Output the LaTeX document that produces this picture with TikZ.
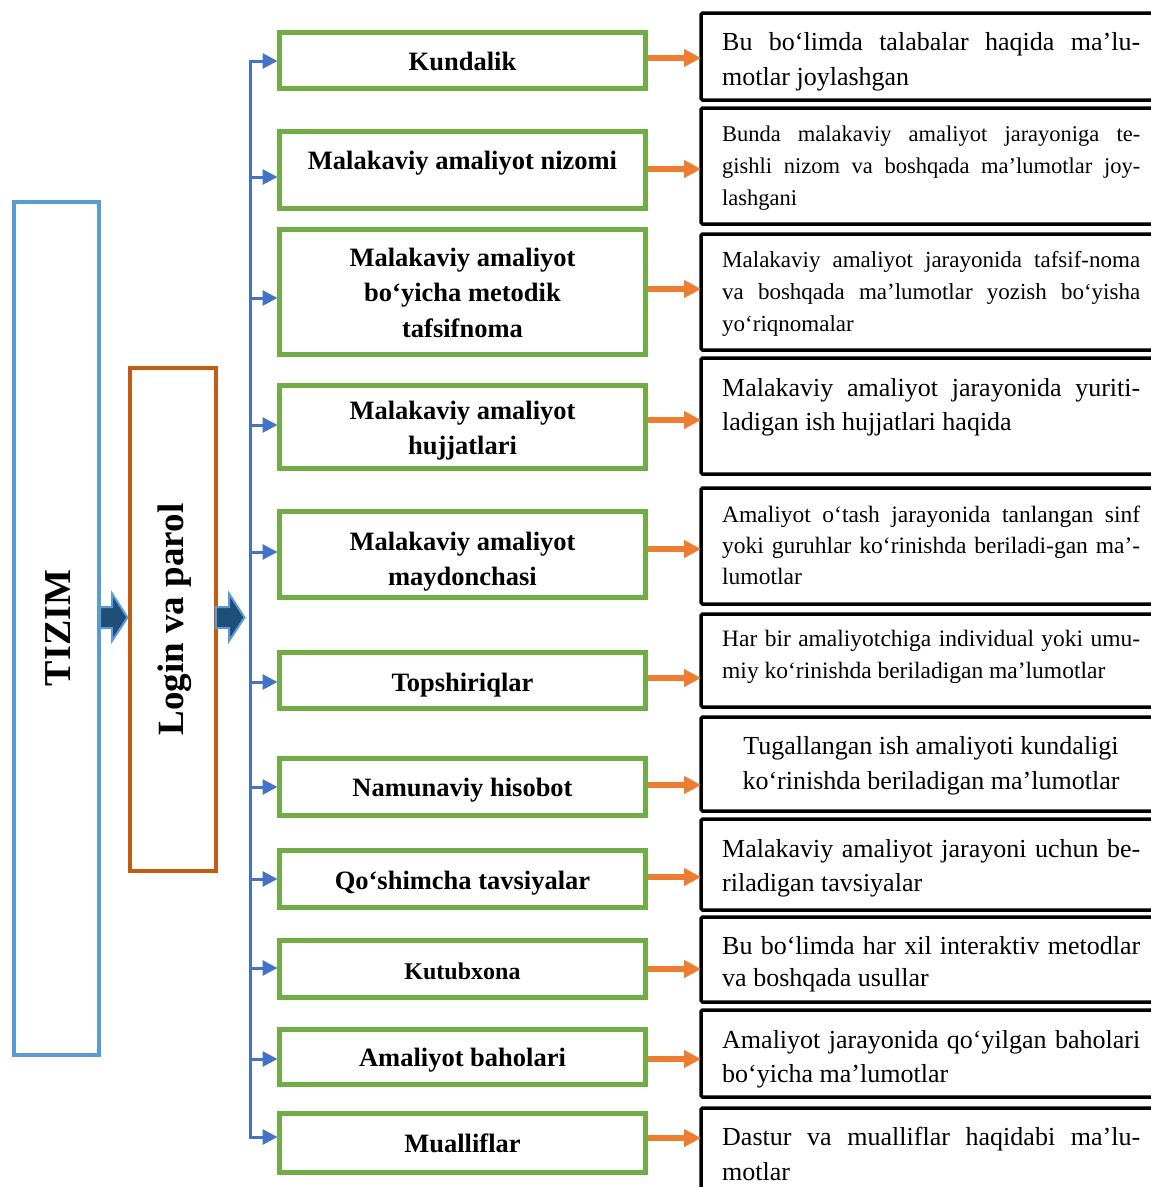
\documentclass[tikz,border=0pt]{standalone}
\usepackage{fontspec}
\setmainfont{Liberation Serif}
\usetikzlibrary{arrows.meta,calc}
\definecolor{tzblue}{HTML}{5B9BD5}
\definecolor{lgorange}{HTML}{C55A11}
\definecolor{busblue}{HTML}{4472C4}
\definecolor{grn}{HTML}{70AD47}
\definecolor{orng}{HTML}{ED7D31}
\definecolor{dkblue}{HTML}{1F4E79}
\newcommand\cblock[2]{\vtop{\baselineskip=#1\lineskiplimit=-100pt\relax\halign{\hfil##\hfil\cr#2\crcr}}}
\newcommand\lblock[2]{\vtop{\baselineskip=#1\lineskiplimit=-100pt\relax\halign{##\hfil\cr#2\crcr}}}
\newcommand\jl[1]{\makebox[418pt][s]{#1}}
\newcommand\fs[1]{\fontsize{#1}{#1}\selectfont}
\begin{document}
\begin{tikzpicture}[x=1pt,y=-1pt,
  gbox/.style={draw=grn, line width=5pt, minimum width=366pt, inner sep=0pt, outer sep=0pt},
  rbox/.style={draw=black, line width=3.5pt, minimum width=464pt, inner sep=0pt, outer sep=0pt, rounded corners=1.5pt},
  gtxt/.style={inner sep=0pt, anchor=base, font=\bfseries\fs{26.5}},
  rtxt/.style={inner sep=0pt, anchor=base west},
  sidebox/.style={line width=4pt, minimum width=85.3pt, inner sep=0pt, outer sep=0pt},
  barrow/.style={draw=busblue, line width=3pt, shorten >=2pt, -{Triangle[length=15pt,width=15pt]}},
  oarrow/.style={draw=orng, line width=5.5pt, shorten <=2.5pt, -{Triangle[length=17pt,width=17pt]}},
  blk/.style={fill=dkblue, draw=tzblue, line width=2pt, line join=miter},
]
\useasboundingbox (0,0) rectangle (1151,1187);

% left boxes
\node[sidebox, draw=tzblue, minimum height=852.5pt] (tizim) at (56.35,628.25) {};
\node[rotate=90, inner sep=0pt, font=\bfseries\fs{38}] (tizimtxt) at (58.5,628) {TIZIM};
\node[sidebox, draw=lgorange, minimum width=85.4pt, minimum height=503.3pt] (login) at (173,619.65) {};
\node[rotate=90, inner sep=0pt, font=\bfseries\fs{37}] (logintxt) at (175,619.5) {Login va parol};

% block arrows
\draw[blk] (100,607) -- (112,607) -- (112,593.5) -- (127.5,617.5) -- (112,641) -- (112,628) -- (100,628) -- cycle;
\draw[blk] (216,607) -- (229,607) -- (229,593.5) -- (244.5,617.5) -- (229,641) -- (229,628) -- (216,628) -- cycle;

% green boxes
\node[gbox, minimum height=56pt] (g1) at (462.5,60.5) {};
\node[gbox, minimum height=76.5pt] (g2) at (462.5,169.75) {};
\node[gbox, minimum height=125pt] (g3) at (462.5,292) {};
\node[gbox, minimum height=83pt] (g4) at (462.5,426.5) {};
\node[gbox, minimum height=86pt] (g5) at (462.5,554.5) {};
\node[gbox, minimum height=56pt] (g6) at (462.5,680.5) {};
\node[gbox, minimum height=57pt] (g7) at (462.5,786.5) {};
\node[gbox, minimum height=57pt] (g8) at (462.5,878.5) {};
\node[gbox, minimum height=57pt] (g9) at (462.5,968.5) {};
\node[gbox, minimum height=55pt] (g10) at (462.5,1057) {};
\node[gbox, minimum height=59pt] (g11) at (462.5,1143) {};

\node[gtxt] (t1) at (462.5,70) {Kundalik};
\node[gtxt] (t2) at (462.5,169) {Malakaviy amaliyot nizomi};
\node[gtxt] (t3) at (462.5,266) {\cblock{35.5pt}{Malakaviy amaliyot\cr bo‘yicha metodik\cr tafsifnoma}};
\node[gtxt] (t4) at (462.5,419) {\cblock{35pt}{Malakaviy amaliyot\cr hujjatlari}};
\node[gtxt] (t5) at (462.5,550) {\cblock{35pt}{Malakaviy amaliyot\cr maydonchasi}};
\node[gtxt] (t6) at (462.5,691) {Topshiriqlar};
\node[gtxt] (t7) at (462.5,796) {Namunaviy hisobot};
\node[gtxt] (t8) at (462.5,889) {Qo‘shimcha tavsiyalar};
\node[gtxt, font=\bfseries\fs{24}] (t9) at (462.5,979) {Kutubxona};
\node[gtxt] (t10) at (462.5,1066) {Amaliyot baholari};
\node[gtxt] (t11) at (462.5,1152) {Mualliflar};

% right boxes
\node[rbox, minimum height=87pt] (r1) at (933,56.5) {};
\node[rbox, minimum height=116pt] (r2) at (933,166) {};
\node[rbox, minimum height=116pt] (r3) at (933,292) {};
\node[rbox, minimum height=116pt] (r4) at (933,416) {};
\node[rbox, minimum height=116pt] (r5) at (933,546) {};
\node[rbox, minimum height=93pt] (r6) at (933,660.5) {};
\node[rbox, minimum height=94pt] (r7) at (933,764) {};
\node[rbox, minimum height=91pt] (r8) at (933,864.5) {};
\node[rbox, minimum height=85pt] (r9) at (933,959.5) {};
\node[rbox, minimum height=87pt] (r10) at (933,1053.5) {};
\node[rbox, minimum height=92pt] (r11) at (933,1154) {};

\node[rtxt, font=\fs{26}] (d1) at (722,50) {\lblock{35pt}{\jl{Bu bo‘limda talabalar haqida ma’lu-}\cr motlar joylashgan}};
\node[rtxt, font=\fs{22.5}] (d2) at (722,141) {\lblock{32pt}{\jl{Bunda malakaviy amaliyot jarayoniga te-}\cr \jl{gishli nizom va boshqada ma’lumotlar joy-}\cr lashgani}};
\node[rtxt, font=\fs{23}] (d3) at (722,267) {\lblock{32pt}{\jl{Malakaviy amaliyot jarayonida tafsif-noma}\cr \jl{va boshqada ma’lumotlar yozish bo‘yisha}\cr yo‘riqnomalar}};
\node[rtxt, font=\fs{26}] (d4) at (722,396) {\lblock{34pt}{\jl{Malakaviy amaliyot jarayonida yuriti-}\cr ladigan ish hujjatlari haqida}};
\node[rtxt, font=\fs{23.5}] (d5) at (722,522) {\lblock{31pt}{\jl{Amaliyot o‘tash jarayonida tanlangan sinf}\cr \jl{yoki guruhlar ko‘rinishda beriladi-gan ma’-}\cr lumotlar}};
\node[rtxt, font=\fs{23.5}] (d6) at (722,646) {\lblock{32pt}{\jl{Har bir amaliyotchiga individual yoki umu-}\cr miy ko‘rinishda beriladigan ma’lumotlar}};
\node[inner sep=0pt, anchor=base, font=\fs{26}] (d7) at (931,754) {\cblock{35pt}{Tugallangan ish amaliyoti kundaligi\cr ko‘rinishda beriladigan ma’lumotlar}};
\node[rtxt, font=\fs{26}] (d8) at (722,857) {\lblock{34pt}{\jl{Malakaviy amaliyot jarayoni uchun be-}\cr riladigan tavsiyalar}};
\node[rtxt, font=\fs{26}] (d9) at (722,954) {\lblock{32pt}{\jl{Bu bo‘limda har xil interaktiv metodlar}\cr va boshqada usullar}};
\node[rtxt, font=\fs{26}] (d10) at (722,1048) {\lblock{34pt}{\jl{Amaliyot jarayonida qo‘yilgan baholari}\cr bo‘yicha ma’lumotlar}};
\node[rtxt, font=\fs{26}] (d11) at (722,1145) {\lblock{35pt}{\jl{Dastur va mualliflar haqidabi ma’lu-}\cr motlar}};

% bus and blue arrows
\draw[busblue, line width=3pt, line cap=rect] (250.5,61) coordinate (bustop) -- (250.5,1137) coordinate (busbot);
\draw[barrow] (bustop) -- (g1.west |- bustop);
\draw[barrow] (250.5,177) -- (g2.west |- 0,177);
\draw[barrow] (250.5,298) -- (g3.west |- 0,298);
\draw[barrow] (250.5,425) -- (g4.west |- 0,425);
\draw[barrow] (250.5,552) -- (g5.west |- 0,552);
\draw[barrow] (250.5,682) -- (g6.west |- 0,682);
\draw[barrow] (250.5,787) -- (g7.west |- 0,787);
\draw[barrow] (250.5,879) -- (g8.west |- 0,879);
\draw[barrow] (250.5,968) -- (g9.west |- 0,968);
\draw[barrow] (250.5,1059) -- (g10.west |- 0,1059);
\draw[barrow] (busbot) -- (g11.west |- busbot);

% orange arrows
\draw[oarrow] (g1.east |- 0,58) -- (r1.west |- 0,58);
\draw[oarrow] (g2.east |- 0,169) -- (r2.west |- 0,169);
\draw[oarrow] (g3.east |- 0,289) -- (r3.west |- 0,289);
\draw[oarrow] (g4.east |- 0,420) -- (r4.west |- 0,420);
\draw[oarrow] (g5.east |- 0,549) -- (r5.west |- 0,549);
\draw[oarrow] (g6.east |- 0,678) -- (r6.west |- 0,678);
\draw[oarrow] (g7.east |- 0,785) -- (r7.west |- 0,785);
\draw[oarrow] (g8.east |- 0,877) -- (r8.west |- 0,877);
\draw[oarrow] (g9.east |- 0,969) -- (r9.west |- 0,969);
\draw[oarrow] (g10.east |- 0,1059) -- (r10.west |- 0,1059);
\draw[oarrow] (g11.east |- 0,1138) -- (r11.west |- 0,1138);
\end{tikzpicture}
\end{document}
